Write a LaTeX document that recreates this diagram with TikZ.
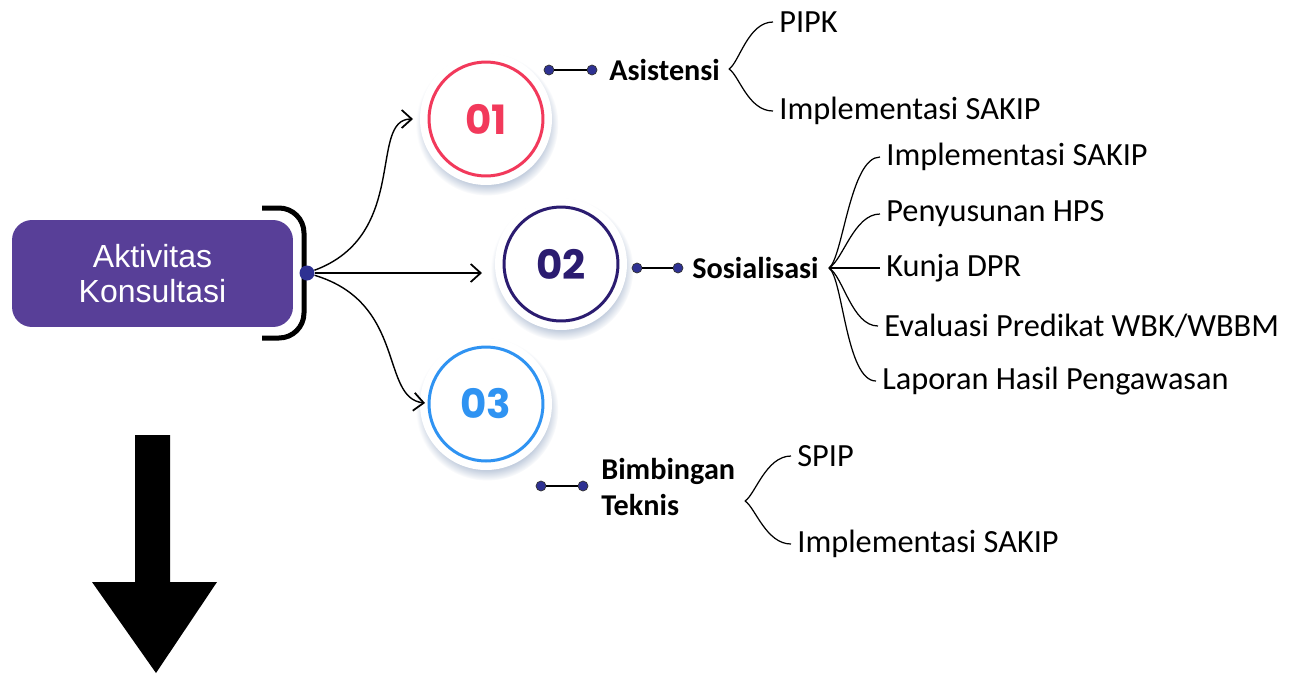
\documentclass[tikz,border=0pt]{standalone}
\usepackage{fontspec}
\setmainfont{Carlito}
\newfontfamily\boxfont{Liberation Sans}
\newfontfamily\numfont{Poppins}
\usetikzlibrary{arrows.meta,shadows,fadings}

\definecolor{boxpurple}{HTML}{583F98}
\definecolor{dotblue}{HTML}{2E3192}
\definecolor{redone}{HTML}{F2395B}
\definecolor{navytwo}{HTML}{2B1C70}
\definecolor{bluethree}{HTML}{2F93F2}
\definecolor{shadowgrey}{HTML}{A9B8CF}

\begin{document}
\begin{tikzpicture}[x=0.02cm, y=-0.02cm,
    halo/.style={circle, fill=white, minimum size=2.64cm, inner sep=0pt,
      circular drop shadow={shadow xshift=0.02cm, shadow yshift=-0.1cm,
        shadow scale=1.08, fill=shadowgrey, opacity=0.7}},
    ring/.style={circle, draw=#1, text=#1, line width=0.06cm, minimum size=2.28cm,
      inner sep=0pt, font=\numfont\bfseries\fontsize{23}{23}\selectfont},
    hubdot/.style={circle, fill=dotblue, minimum size=0.3cm, inner sep=0pt},
    smalldot/.style={circle, fill=dotblue, draw=black!80, line width=0.4pt,
      minimum size=0.2cm, inner sep=0pt},
    head/.style={anchor=west, inner sep=0.1cm, align=left,
      font=\bfseries\fontsize{17.2}{21}\selectfont},
    item/.style={anchor=west, inner sep=0.12cm, font=\fontsize{18.4}{20}\selectfont},
    brace/.style={line width=0.7pt},
    link/.style={line width=0.8pt, -{Straight Barb[length=0.2cm,width=0.36cm,line width=1pt]}}]
  \useasboundingbox (0,0) rectangle (1296,674);

  % main box and bracket
  \node[fill=boxpurple, rounded corners=0.4cm, minimum width=5.62cm, minimum height=2.14cm,
    text=white, align=center, font=\boxfont\fontsize{18.2}{19.5}\selectfont]
    (box) at (152.5,273.5) {Aktivitas\\Konsultasi};
  \draw[line width=0.1cm, rounded corners=0.5cm] (262,208) -- (304,208) -- (304,338) -- (262,338);
  \node[hubdot] (hub) at (307,273) {};

  % numbered circles
  \node[halo] (c1) at (486,119) {};
  \node[ring=redone] (n1) at (c1) {01};
  \node[halo] (c2) at (561,264) {};
  \node[ring=navytwo] (n2) at (c2) {02};
  \node[halo] (c3) at (486,404) {};
  \node[ring=bluethree] (n3) at (c3) {03};

  \coordinate (t1) at (413,119);
  \coordinate (t2) at (482,273);
  \coordinate (t3) at (425,403);
  \draw[link] (hub) .. controls +(103,-38) and +(-45,0) .. (t1);
  \draw[link] (hub) -- (t2);
  \draw[link] (hub) .. controls +(100,30) and +(-45,-5) .. (t3);

  % Asistensi
  \node[smalldot] (a1) at (549,70) {};
  \node[smalldot] (a2) at (592,70) {};
  \draw[line width=0.8pt] (a1) -- (a2);
  \node[head] (asis) at (604,70) {Asistensi};
  \coordinate (bA) at (729,69);
  \node[item] (pipk) at (773,22) {PIPK};
  \node[item] (sakipA) at (773,111) {Implementasi SAKIP};
  \draw[brace] (bA) .. controls +(10,-6) and +(-25,0) .. (pipk.west);
  \draw[brace] (bA) .. controls +(10,6) and +(-25,0) .. (sakipA.west);

  % Sosialisasi
  \node[smalldot] (s1) at (637,268) {};
  \node[smalldot] (s2) at (678,268) {};
  \draw[line width=0.8pt] (s1) -- (s2);
  \node[head] (sosi) at (687,268) {Sosialisasi};
  \coordinate (bS) at (829,268);
  \node[item] (sakipB) at (880,157) {Implementasi SAKIP};
  \node[item] (hps) at (880,214) {Penyusunan HPS};
  \node[item] (dpr) at (880,268) {Kunja DPR};
  \node[item] (wbk) at (878,326) {Evaluasi Predikat WBK/WBBM};
  \node[item] (lhp) at (876,381) {Laporan Hasil Pengawasan};
  \draw[brace] (bS) .. controls +(14,-10) and +(-30,0) .. (sakipB.west);
  \draw[brace] (bS) .. controls +(14,-8) and +(-26,0) .. (hps.west);
  \draw[brace] (bS) -- (dpr.west);
  \draw[brace] (bS) .. controls +(14,8) and +(-26,0) .. (wbk.west);
  \draw[brace] (bS) .. controls +(14,10) and +(-30,0) .. (lhp.west);

  % Bimbingan Teknis
  \node[smalldot] (b1) at (541,486) {};
  \node[smalldot] (b2) at (583,486) {};
  \draw[line width=0.8pt] (b1) -- (b2);
  \node[head] (bimtek) at (596,487) {Bimbingan\\Teknis};
  \coordinate (bB) at (745,501);
  \node[item] (spip) at (791,456) {SPIP};
  \node[item] (sakipC) at (791,544) {Implementasi SAKIP};
  \draw[brace] (bB) .. controls +(10,-6) and +(-25,0) .. (spip.west);
  \draw[brace] (bB) .. controls +(10,6) and +(-25,0) .. (sakipC.west);

  % big arrow
  \fill (135,435) -- (170,435) -- (170,582) -- (217,582) -- (156,673) -- (92,582) -- (135,582) -- cycle;
\end{tikzpicture}
\end{document}
